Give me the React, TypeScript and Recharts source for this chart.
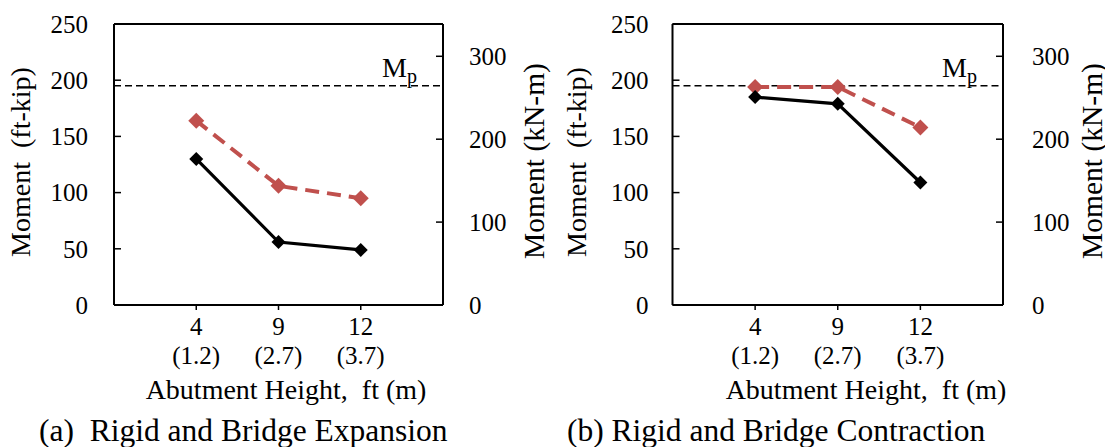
import { LineChart, Line, XAxis, YAxis, ReferenceLine } from 'recharts';

const FONT = '"Liberation Serif", "Times New Roman", serif';
const RED = '#C0504D';

// abutment heights: ft on the first line, m underneath
const heightsFt = ['4', '9', '12'];
const heightsM = ['(1.2)', '(2.7)', '(3.7)'];

// moments in ft-kip
const expansionRigid = [130, 56, 49];
const expansionBridge = [164, 106, 95];
const contractionRigid = [185, 179, 109];
const contractionBridge = [194, 194, 158];

const mpFtKip = 195;
const ftKipToKnm = 1.3558;
const ftKipTicks = [0, 50, 100, 150, 200, 250];
const knmTicks = [0, 100, 200, 300];
const slots = [1, 2, 3];

function buildRows(rigid: number[], bridge: number[]) {
  return heightsFt.map((ft, i) => ({
    slot: slots[i],
    ft,
    m: heightsM[i],
    rigid: rigid[i],
    bridge: bridge[i],
    // same moment in kN-m, keeps the secondary axis bound to data
    bridgeKnm: bridge[i] * ftKipToKnm,
  }));
}

function Diamond({ cx, cy, fill, r }: { cx?: number; cy?: number; fill: string; r: number }) {
  if (cx == null || cy == null) return null;
  return (
    <path
      d={`M${cx},${cy - r}L${cx + r},${cy}L${cx},${cy + r}L${cx - r},${cy}Z`}
      fill={fill}
      stroke="none"
    />
  );
}

function HeightTick({ x, y, payload }: any) {
  const i = slots.indexOf(payload.value);
  return (
    <g>
      <text x={x} y={y} dy={25} textAnchor="middle" fontSize={25} fontFamily={FONT} fill="#000">
        {heightsFt[i]}
      </text>
      <text x={x} y={y} dy={54} textAnchor="middle" fontSize={25} fontFamily={FONT} fill="#000">
        {heightsM[i]}
      </text>
    </g>
  );
}

function VerticalTitle({ cx, cy, text, size }: { cx: number; cy: number; text: string; size: number }) {
  return (
    <text
      x={cx}
      y={cy}
      dy="0.24em"
      transform={`rotate(-90 ${cx} ${cy})`}
      textAnchor="middle"
      fontSize={size}
      fontFamily={FONT}
      fill="#000"
      style={{ whiteSpace: 'pre' }}
    >
      {text}
    </text>
  );
}

function MpLabel({ viewBox }: any) {
  if (!viewBox) return null;
  const x = viewBox.x + viewBox.width - 61;
  const y = viewBox.y - 9;
  return (
    <text x={x} y={y} fontSize={28} fontFamily={FONT} fill="#000">
      M
      <tspan fontSize={20} dy={6}>
        p
      </tspan>
    </text>
  );
}

interface PanelProps {
  rigid: number[];
  bridge: number[];
  left: number;
  width: number;
  plotLeft: number;
  plotRight: number;
  leftGap: number;
  rightGap: number;
  leftTitleX: number;
  rightTitleX: number;
  xTitleX: number;
  caption: string;
  captionX: number;
}

const AXIS_W = 60;
const PLOT_TOP = 24;
const PLOT_BOTTOM = 305;
const HEIGHT = 447;
const X_AXIS_H = 30;

function Panel(p: PanelProps) {
  const rows = buildRows(p.rigid, p.bridge);
  const axisLine = { stroke: '#000', strokeWidth: 2 };
  const tickLine = { stroke: '#000', strokeWidth: 1.5 };
  const tickFont = { fontSize: 25, fontFamily: FONT, fill: '#000' };

  return (
    <div style={{ position: 'absolute', left: p.left, top: 0 }}>
      <LineChart
        width={p.width}
        height={HEIGHT}
        data={rows}
        margin={{
          top: PLOT_TOP,
          bottom: HEIGHT - PLOT_BOTTOM - X_AXIS_H,
          left: p.plotLeft - AXIS_W,
          right: p.width - p.plotRight - AXIS_W,
        }}
      >
        <XAxis
          dataKey="slot"
          type="number"
          domain={[0, 4]}
          ticks={slots}
          interval={0}
          height={X_AXIS_H}
          tickSize={5}
          tickMargin={0}
          axisLine={axisLine}
          tickLine={tickLine}
          tick={<HeightTick />}
          label={() => (
            <g>
              <text
                x={p.xTitleX}
                y={399}
                textAnchor="middle"
                fontSize={28}
                fontFamily={FONT}
                fill="#000"
                style={{ whiteSpace: 'pre' }}
              >
                Abutment Height,  ft (m)
              </text>
              <text
                x={p.captionX}
                y={441}
                fontSize={31.5}
                fontFamily={FONT}
                fill="#000"
                style={{ whiteSpace: 'pre' }}
              >
                {p.caption}
              </text>
            </g>
          )}
        />
        <YAxis
          yAxisId="ft"
          orientation="left"
          width={AXIS_W}
          domain={[0, 250]}
          ticks={ftKipTicks}
          interval={0}
          tickSize={-7}
          tickMargin={7 + p.leftGap}
          axisLine={axisLine}
          tickLine={tickLine}
          tick={tickFont}
          label={() => <VerticalTitle cx={p.leftTitleX} cy={162} text="Moment  (ft-kip)" size={28} />}
        />
        <YAxis
          yAxisId="knm"
          orientation="right"
          width={AXIS_W}
          type="number"
          domain={[0, 250 * ftKipToKnm]}
          allowDataOverflow
          ticks={knmTicks}
          interval={0}
          tickSize={-7}
          tickMargin={7 + p.rightGap}
          axisLine={axisLine}
          tickLine={tickLine}
          tick={tickFont}
          label={() => <VerticalTitle cx={p.rightTitleX} cy={161} text="Moment (kN-m)" size={29.5} />}
        />
        <ReferenceLine yAxisId="ft" y={250} stroke="#000" strokeWidth={2} />
        <ReferenceLine
          yAxisId="ft"
          y={mpFtKip}
          stroke="#000"
          strokeWidth={1.5}
          strokeDasharray="7 4"
          label={<MpLabel />}
        />
        <Line
          yAxisId="knm"
          dataKey="bridgeKnm"
          stroke="none"
          dot={false}
          activeDot={false}
          isAnimationActive={false}
        />
        <Line
          yAxisId="ft"
          dataKey="bridge"
          stroke={RED}
          strokeWidth={4}
          strokeDasharray="14 8"
          isAnimationActive={false}
          dot={(d: any) => <Diamond key={`b${d.index}`} cx={d.cx} cy={d.cy} fill={RED} r={8} />}
          activeDot={false}
        />
        <Line
          yAxisId="ft"
          dataKey="rigid"
          stroke="#000"
          strokeWidth={3.2}
          isAnimationActive={false}
          dot={(d: any) => <Diamond key={`r${d.index}`} cx={d.cx} cy={d.cy} fill="#000" r={7} />}
          activeDot={false}
        />
      </LineChart>
    </div>
  );
}

export default function App() {
  return (
    <div
      style={{
        position: 'absolute',
        left: 0,
        top: 0,
        width: 1105,
        height: HEIGHT,
        background: '#fff',
        overflow: 'hidden',
        fontFamily: FONT,
      }}
    >
      <Panel
        rigid={expansionRigid}
        bridge={expansionBridge}
        left={0}
        width={560}
        plotLeft={114}
        plotRight={443}
        leftGap={26}
        rightGap={26}
        leftTitleX={23}
        rightTitleX={537}
        xTitleX={286}
        caption="(a)  Rigid and Bridge Expansion"
        captionX={39}
      />
      <Panel
        rigid={contractionRigid}
        bridge={contractionBridge}
        left={560}
        width={545}
        plotLeft={112.5}
        plotRight={443}
        leftGap={24}
        rightGap={29}
        leftTitleX={19}
        rightTitleX={535}
        xTitleX={306}
        caption="(b) Rigid and Bridge Contraction"
        captionX={7}
      />
    </div>
  );
}
